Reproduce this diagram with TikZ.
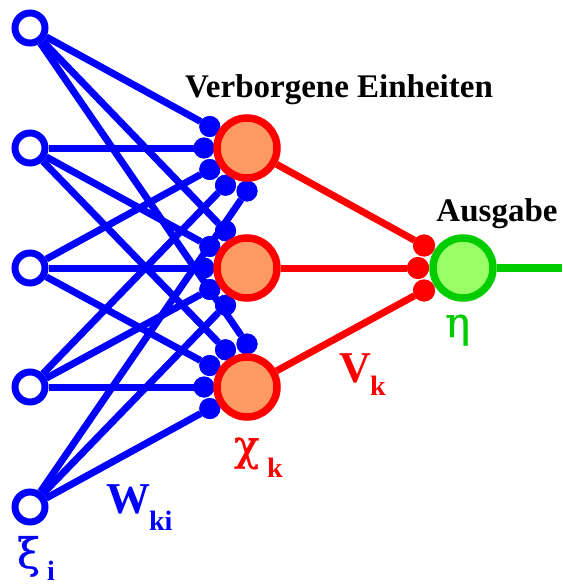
\documentclass[tikz,border=0pt]{standalone}
\usepackage{fontspec}
\setmainfont{Liberation Serif}
\newfontfamily\greekfont[FakeBold=0.8]{DejaVu Serif}
\definecolor{nblue}{RGB}{0,0,255}
\definecolor{nred}{RGB}{255,0,0}
\definecolor{ngreen}{RGB}{0,204,0}
\definecolor{salmonfill}{RGB}{255,153,102}
\definecolor{lgreenfill}{RGB}{153,255,102}
\newcommand{\fs}[1]{\fontsize{#1}{#1}\selectfont}
\begin{document}
\begin{tikzpicture}[x=1pt,y=-1pt,
  inunit/.style={circle,draw=nblue,line width=7pt,fill=white,minimum size=30pt,inner sep=0pt},
  hidunit/.style={circle,draw=nred,line width=7.5pt,fill=salmonfill,minimum size=60pt,inner sep=0pt},
  outunit/.style={circle,draw=ngreen,line width=7.5pt,fill=lgreenfill,minimum size=60pt,inner sep=0pt},
  bdot/.style={circle,fill=nblue,minimum size=21pt,inner sep=0pt,outer sep=0pt},
  rdot/.style={circle,fill=nred,minimum size=22pt,inner sep=0pt,outer sep=0pt},
  bline/.style={draw=nblue,line width=7pt},
  rline/.style={draw=nred,line width=7pt},
  gline/.style={draw=ngreen,line width=7.5pt},
  lbl/.style={inner sep=0pt,outer sep=0pt,anchor=base west}]
\useasboundingbox (0,0) rectangle (562,586);
% input units
\foreach \i/\y in {1/28,2/148,3/268,4/387,5/507}{
  \coordinate (pin\i) at (30,\y);
}
% hidden units positions
\coordinate (ph1) at (247,148);
\coordinate (ph2) at (247,268);
\coordinate (ph3) at (247,387);
\coordinate (pout) at (463,268);
% dots around hidden units
\foreach \k/\a in {1/210,2/240,3/270}{
  \foreach \i in {1,...,5}{
    \pgfmathsetmacro{\ang}{\a-30*(\i-1)}
    \path (ph\k) ++(\ang:43) node[bdot] (d\k-\i) {};
  }
}
% dots at output
\path (pout) ++(210:45) node[rdot] (o1) {};
\path (pout) ++(180:45) node[rdot] (o2) {};
\path (pout) ++(150:45) node[rdot] (o3) {};
% input nodes
\foreach \i in {1,...,5}{ \node[inunit] (in\i) at (pin\i) {}; }
% blue connectors
\foreach \k in {1,2,3}{
  \foreach \i in {1,...,5}{
    \draw[bline] (in\i) -- (d\k-\i);
  }
}
% redraw dots on top of lines
\foreach \k/\a in {1/210,2/240,3/270}{
  \foreach \i in {1,...,5}{
    \pgfmathsetmacro{\ang}{\a-30*(\i-1)}
    \path (ph\k) ++(\ang:43) node[bdot] {};
  }
}
% hidden and output nodes
\node[hidunit] (h1) at (ph1) {};
\node[hidunit] (h2) at (ph2) {};
\node[hidunit] (h3) at (ph3) {};
% red connectors
\draw[rline] (h1) -- (o1);
\draw[rline] (h2) -- (o2);
\draw[rline] (h3) -- (o3);
\path (pout) ++(210:45) node[rdot] {};
\path (pout) ++(180:45) node[rdot] {};
\path (pout) ++(150:45) node[rdot] {};
\node[outunit] (out) at (pout) {};
\coordinate (outend) at (562,268);
\draw[gline] (out) -- (outend);
% labels
\node[inner sep=0pt,anchor=base] (tv) at (339,97) {\fs{33}\bfseries Verborgene Einheiten};
\node[inner sep=0pt,anchor=base] (ta) at (497,221) {\fs{33}\bfseries Ausgabe};
\node[lbl,text=ngreen] (teta) at (445,337) {\greekfont\fs{42}η};
\node[lbl,text=nred] (tv1) at (339,382) {\fs{44}\bfseries V};
\node[lbl,text=nred] (tv2) at (370,395) {\fs{28}\bfseries k};
\node[lbl,text=nred] (tc1) at (234,460) {\greekfont\fs{42}χ};
\node[lbl,text=nred] (tc2) at (267,477) {\fs{28}\bfseries k};
\node[lbl,text=nblue] (tw1) at (106,513) {\fs{44}\bfseries W};
\node[lbl,text=nblue] (tw2) at (149,530) {\fs{28}\bfseries ki};
\node[lbl,text=nblue] (tx1) at (17,568) {\greekfont\fs{42}ξ};
\node[lbl,text=nblue] (tx2) at (47,580) {\fs{28}\bfseries i};
\end{tikzpicture}
\end{document}
